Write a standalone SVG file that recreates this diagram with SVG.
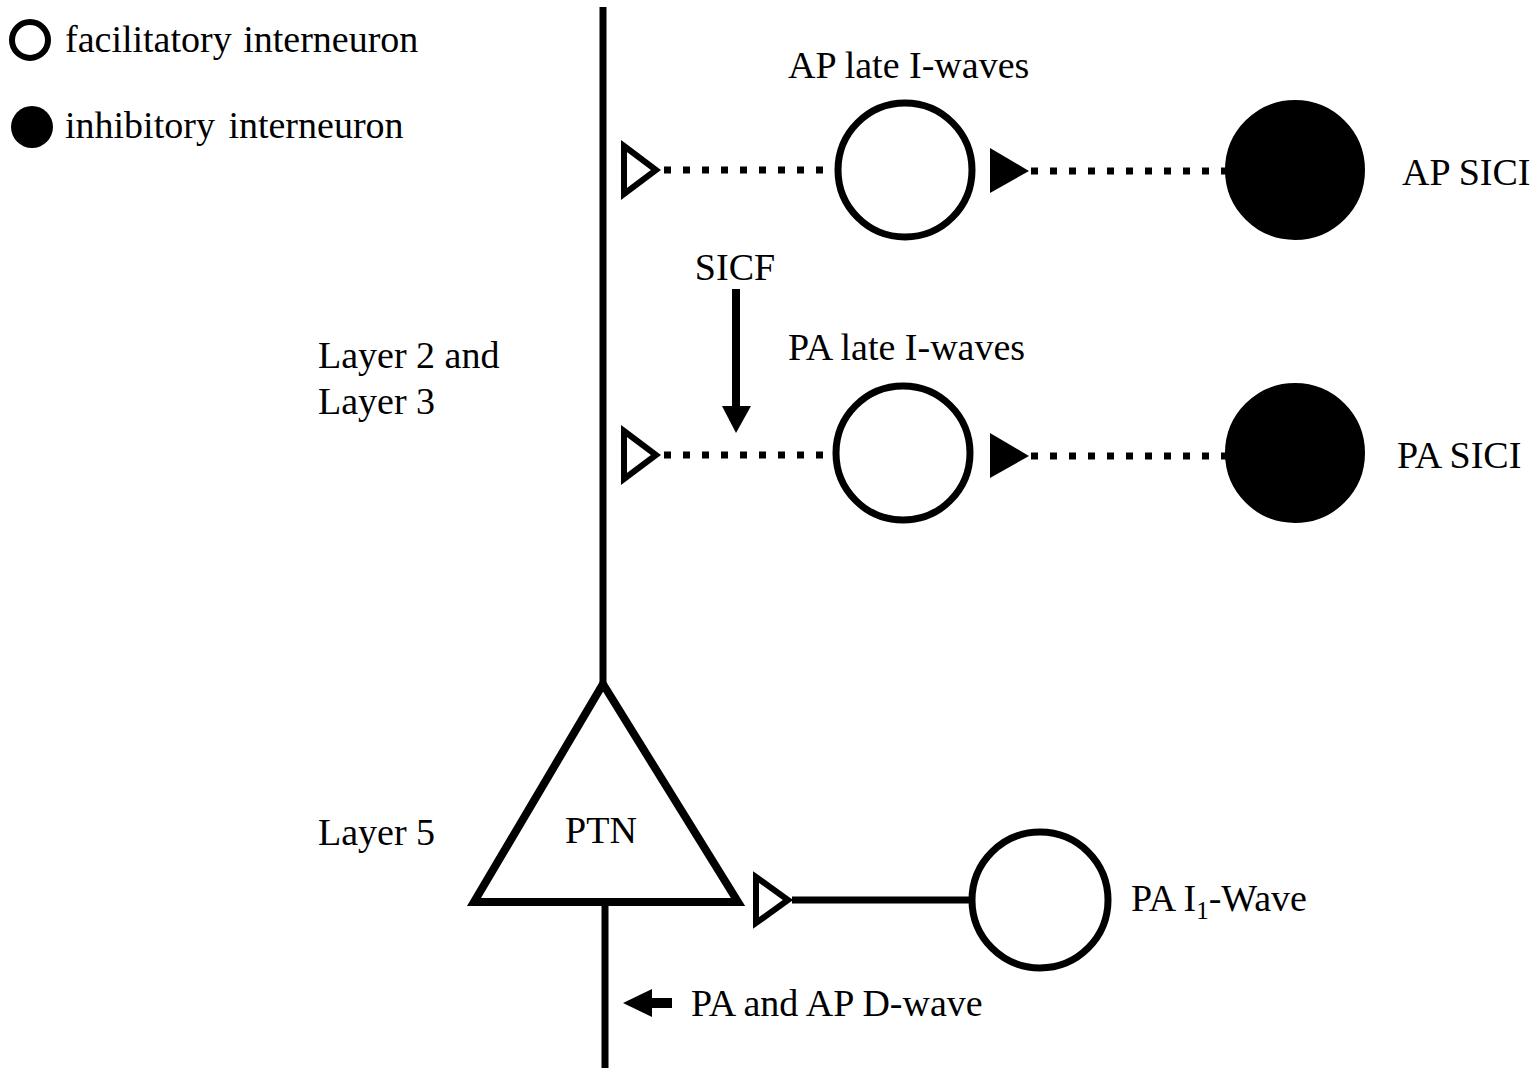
<svg xmlns="http://www.w3.org/2000/svg" width="1535" height="1075" viewBox="0 0 1535 1075">
<style>
text{font-family:"Liberation Serif","Times New Roman",serif;font-size:38px;fill:#000}
.ln{stroke:#000;stroke-width:7;fill:none}
.dot{stroke:#000;stroke-width:7;fill:none;stroke-dasharray:7 12}
.fac{fill:#fff;stroke:#000;stroke-width:7}
.inh{fill:#000;stroke:#000;stroke-width:2}
.oterm{fill:#fff;stroke:#000;stroke-width:6;stroke-linejoin:miter}
.fterm{fill:#000}
</style>
<rect width="1535" height="1075" fill="#fff"/>
<g id="legend">
<circle cx="30" cy="40" r="18" fill="#fff" stroke="#000" stroke-width="6"/>
<text x="65" y="52" word-spacing="2">facilitatory interneuron</text>
<circle cx="32" cy="127" r="21" fill="#000"/>
<text x="65" y="138" word-spacing="4">inhibitory interneuron</text>
</g>
<g id="connectors">
<line class="ln" x1="603" y1="7" x2="603" y2="684"/>
<line class="ln" x1="605" y1="903" x2="605" y2="1068"/>
<line class="dot" x1="664" y1="170" x2="836" y2="170"/>
<line class="dot" x1="1031" y1="171" x2="1226" y2="171"/>
<line class="dot" x1="664" y1="455" x2="836" y2="455"/>
<line class="dot" x1="1031" y1="456" x2="1226" y2="456"/>
<line class="ln" x1="792" y1="900" x2="972" y2="900"/>
<polygon class="oterm" points="624,146 656,170 624,194"/>
<polygon class="fterm" points="990,148 1029,171 990,193"/>
<polygon class="oterm" points="624,431 656,455 624,479"/>
<polygon class="fterm" points="990,433 1029,456 990,478"/>
<polygon class="oterm" points="756,877 788,900 756,923"/>
<g id="sicf-arrow">
<line x1="736" y1="289" x2="736" y2="410" stroke="#000" stroke-width="8"/>
<polygon points="722,406 751,406 736,433" fill="#000"/>
</g>
<g id="dwave-arrow">
<line x1="648" y1="1003" x2="672" y2="1003" stroke="#000" stroke-width="10"/>
<polygon points="623,1003 652,989 652,1017" fill="#000"/>
</g>
</g>
<g id="node-ap-late">
<circle class="fac" cx="905" cy="170" r="67"/>
<text x="788" y="78">AP late I-waves</text>
</g>
<g id="node-ap-sici">
<circle class="inh" cx="1295" cy="170" r="69"/>
<text x="1402" y="185">AP SICI</text>
</g>
<g id="node-pa-late">
<circle class="fac" cx="903" cy="453" r="67"/>
<text x="788" y="360">PA late I-waves</text>
</g>
<g id="node-pa-sici">
<circle class="inh" cx="1295" cy="453" r="69"/>
<text x="1397" y="468">PA SICI</text>
</g>
<g id="node-ptn">
<polygon points="603,684 738,902 474,902" fill="#fff" stroke="#000" stroke-width="8" stroke-linejoin="miter"/>
<text x="601" y="843" text-anchor="middle">PTN</text>
</g>
<g id="node-pa-i1">
<circle class="fac" cx="1040" cy="900" r="68"/>
<text x="1131" y="911">PA I<tspan font-size="25" dy="8">1</tspan><tspan dy="-8">-Wave</tspan></text>
</g>
<g id="labels">
<text x="735" y="280" text-anchor="middle">SICF</text>
<text x="318" y="368">Layer 2 and</text>
<text x="318" y="414">Layer 3</text>
<text x="318" y="845">Layer 5</text>
<text x="691" y="1016">PA and AP D-wave</text>
</g>
</svg>
